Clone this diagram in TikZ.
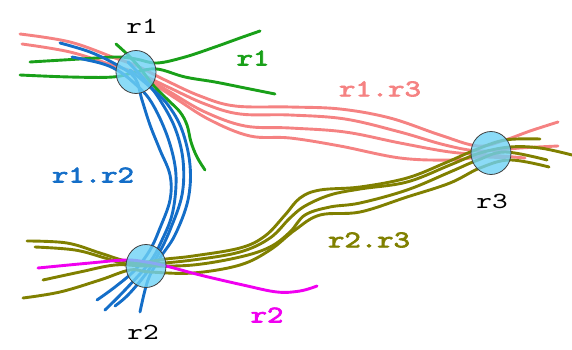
\documentclass[tikz,border=0pt]{standalone}
\usepackage{fontspec}
\usepackage{graphicx}
\usetikzlibrary{shapes.geometric}
\newfontfamily\labfont[AutoFakeBold=2.6]{lmmono10-regular.otf}

\definecolor{salmon}{RGB}{245,130,130}
\definecolor{rgreen}{RGB}{25,160,25}
\definecolor{rblue}{RGB}{20,110,200}
\definecolor{rolive}{RGB}{128,128,0}
\definecolor{rmagenta}{RGB}{240,0,240}
\definecolor{regfill}{RGB}{110,210,245}

\tikzset{
  strand/.style={line width=2.9pt, line cap=round, line join=round},
  region/.style={ellipse, draw=black!75, line width=0.8pt, fill=regfill, fill opacity=0.8,
    minimum width=40pt, minimum height=43pt, inner sep=0pt},
  tag/.style={inner sep=0pt, font=\labfont\fontsize{23}{23}\selectfont},
  ctag/.style={tag, font=\labfont\bfseries\fontsize{24}{24}\selectfont},
}
\newcommand{\wide}[1]{\scalebox{1.3}[1]{#1}}

\begin{document}
\begin{tikzpicture}[x=1pt, y=-1pt]
\useasboundingbox (0,0) rectangle (572,350);

% r1.r3 bundle
\begin{scope}[strand, draw=salmon]
\draw plot[smooth, tension=0.6] coordinates {(20,34) (70,42) (115,58) (137,66) (165,80) (200,96) (235,106) (290,107) (340,109) (390,118) (440,135) (478,146) (505,140) (530,131) (558,122)};
\draw plot[smooth, tension=0.6] coordinates {(22,44) (70,52) (115,66) (140,74) (170,88) (205,104) (240,114) (290,115) (345,119) (400,132) (445,145) (480,151) (520,148) (558,146)};
\draw plot[smooth, tension=0.6] coordinates {(140,74) (170,92) (205,112) (245,126) (290,128) (345,132) (400,143) (450,152) (490,155) (525,158)};
\draw plot[smooth, tension=0.6] coordinates {(145,78) (175,98) (210,120) (250,136) (290,138) (340,146) (400,158) (450,160) (480,157) (505,158)};
\end{scope}

% r1 strands
\begin{scope}[strand, draw=rgreen]
\draw plot[smooth, tension=0.6] coordinates {(30,62) (80,59) (117,57) (136,59) (157,63) (185,57) (215,47) (240,38) (260,31)};
\draw plot[smooth, tension=0.6] coordinates {(20,75) (70,77) (113,77) (136,72) (157,69) (185,77) (215,82) (245,88) (275,94)};
\draw plot[smooth, tension=0.6] coordinates {(116,44) (128,55) (140,68) (153,85) (168,100) (180,112) (187,125) (191,142) (197,157) (205,170)};
\end{scope}

% r1.r2 bundle
\begin{scope}[strand, draw=rblue]
\draw plot[smooth, tension=0.6] coordinates {(60,43) (90,52) (117,65) (135,78) (142,100) (150,125) (160,150) (170,175) (170,200) (160,228) (150,250) (135,270) (115,287) (97,300)};
\draw plot[smooth, tension=0.6] coordinates {(72,57) (100,63) (117,70) (133,82) (150,100) (165,130) (174,160) (176,185) (172,215) (162,240) (150,262) (125,290) (105,310)};
\draw plot[smooth, tension=0.6] coordinates {(128,62) (145,80) (160,100) (175,128) (183,160) (182,195) (170,230) (158,255) (145,275) (128,295) (115,306)};
\draw plot[smooth, tension=0.6] coordinates {(130,70) (150,87) (168,105) (182,130) (190,165) (188,200) (175,235) (160,258) (148,280) (140,312)};
\end{scope}

% r2.r3 bundle
\begin{scope}[strand, draw=rolive]
\draw plot[smooth, tension=0.6] coordinates {(27,241) (67,243) (100,253) (126,261) (146,262) (166,259) (193,256) (240,248) (265,236) (285,215) (300,198) (320,190) (360,187) (407,178) (445,163) (475,150) (505,140) (540,139)};
\draw plot[smooth, tension=0.6] coordinates {(35,247) (75,250) (105,258) (126,264) (150,264) (193,260) (240,252) (270,238) (290,218) (305,206) (330,195) (360,189) (407,182) (450,165) (480,153) (510,147) (540,148) (572,155)};
\draw plot[smooth, tension=0.6] coordinates {(43,280) (80,272) (115,265) (146,266) (193,265) (240,257) (270,247) (290,232) (305,215) (330,207) (360,203) (407,190) (450,172) (478,160) (505,152) (547,160)};
\draw plot[smooth, tension=0.6] coordinates {(23,298) (60,292) (100,280) (130,270) (150,272) (193,273) (240,265) (270,250) (295,230) (320,215) (360,212) (407,197) (450,183) (480,168) (510,160) (549,167)};
\end{scope}

% r2 strand
\draw[strand, draw=rmagenta] plot[smooth, tension=0.6] coordinates {(38,268) (90,263) (126,260) (146,262) (166,266) (200,275) (243,285) (277,292) (300,291) (317,286)};

% regions
\node[region] (c1) at (136,72) {};
\node[region] (c2) at (146,266) {};
\node[region] (c3) at (491,153) {};

% labels
\node[tag] (n1) at (142,26) {\wide{r1}};
\node[tag] (n2) at (143,332) {\wide{r2}};
\node[tag] (n3) at (492,201) {\wide{r3}};
\node[ctag, text=rgreen] (l1) at (253,58) {\wide{r1}};
\node[ctag, text=rmagenta] (l2) at (267,315) {\wide{r2}};
\node[ctag, text=salmon] (l13) at (380,89) {\wide{r1.r3}};
\node[ctag, text=rblue] (l12) at (93,175) {\wide{r1.r2}};
\node[ctag, text=rolive] (l23) at (369,240) {\wide{r2.r3}};
\end{tikzpicture}
\end{document}
